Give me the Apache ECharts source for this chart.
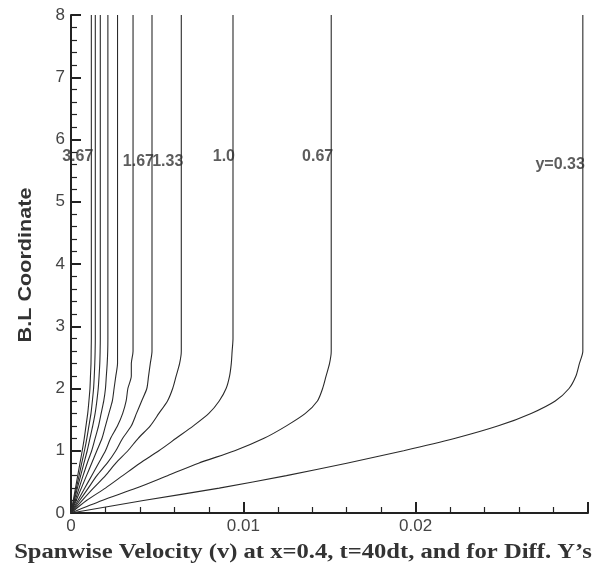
<!DOCTYPE html>
<html>
<head>
<meta charset="utf-8">
<script src="https://cdn.jsdelivr.net/npm/echarts@6/dist/echarts.min.js"></script>
<style>
  html, body { margin: 0; padding: 0; background: #fff; }
  #main { width: 600px; height: 572px; }
</style>
</head>
<body>
<div id="main"></div>
<script>
// B.L coordinate (vertical), shared by all curves
var blCoord = [0, 0.2, 0.4, 0.6, 0.8, 1.0, 1.2, 1.4, 1.6, 1.8, 2.0, 2.2, 2.4, 2.6, 2.8, 3.0, 8];

// spanwise velocity for each y station
var v033 = [0, 0.0042, 0.0086, 0.0125, 0.0160, 0.0193, 0.0223, 0.0248, 0.0267, 0.0281, 0.0289, 0.0293, 0.0295, 0.0297, 0.0297, 0.0297, 0.0297];
var v067 = [0, 0.0018, 0.0038, 0.0056, 0.0074, 0.0095, 0.0112, 0.0125, 0.0136, 0.0143, 0.0146, 0.0148, 0.0150, 0.0151, 0.0151, 0.0151, 0.0151];
var v100 = [0, 0.0009, 0.0020, 0.0030, 0.0040, 0.0051, 0.0061, 0.0071, 0.0080, 0.0086, 0.0090, 0.0092, 0.0093, 0.00935, 0.0094, 0.0094, 0.0094];
var v133 = [0, 0.00064, 0.0013, 0.0020, 0.0026, 0.0033, 0.0039, 0.0046, 0.0051, 0.0056, 0.0059, 0.0061, 0.0063, 0.0064, 0.0064, 0.0064, 0.0064];
var v167 = [0, 0.0005, 0.0010, 0.0015, 0.0021, 0.0026, 0.0030, 0.0035, 0.0038, 0.0041, 0.0044, 0.0045, 0.0046, 0.0047, 0.0047, 0.0047, 0.0047];
var v200 = [0, 0.0004, 0.0008, 0.0012, 0.0016, 0.0020, 0.0023, 0.0027, 0.0030, 0.0032, 0.0033, 0.0035, 0.0035, 0.0036, 0.0036, 0.0036, 0.0036];
var v233 = [0, 0.0003, 0.0006, 0.0009, 0.0012, 0.0015, 0.0018, 0.0020, 0.0022, 0.0024, 0.0025, 0.0026, 0.0027, 0.0027, 0.0027, 0.0027, 0.0027];
var v267 = [0, 0.00024, 0.00047, 0.0007, 0.00094, 0.0012, 0.0014, 0.0016, 0.00175, 0.0019, 0.0020, 0.00205, 0.0021, 0.00213, 0.00214, 0.00214, 0.00214];
var v300 = [0, 0.00019, 0.00037, 0.00056, 0.00075, 0.00094, 0.0011, 0.00126, 0.0014, 0.0015, 0.00158, 0.00163, 0.00167, 0.00169, 0.0017, 0.0017, 0.0017];
var v333 = [0, 0.00016, 0.00031, 0.00047, 0.00062, 0.00078, 0.00092, 0.00104, 0.00116, 0.00124, 0.00131, 0.00135, 0.00138, 0.0014, 0.00141, 0.00141, 0.00141];
var v367 = [0, 0.00013, 0.00026, 0.00039, 0.00052, 0.00065, 0.00077, 0.00087, 0.00097, 0.00104, 0.0011, 0.00113, 0.00116, 0.00117, 0.00118, 0.00118, 0.00118];

var curves = [v033, v067, v100, v133, v167, v200, v233, v267, v300, v333, v367];

// curve labels written inside the plot
var labelText = ['y=0.33', '0.67', '1.0', '1.33', '1.67', '3.67'];
var labelX = [0.0297, 0.0151, 0.0094, 0.0064, 0.0047, 0.00118];
var labelY = [5.59, 5.72, 5.72, 5.64, 5.64, 5.72];

var xTicks = [0, 0.01, 0.02];

var myChart = echarts.init(document.getElementById('main'));

var series = curves.map(function (vals) {
    return {
        type: 'line',
        symbol: 'none',
        smooth: 0.25,
        lineStyle: { color: '#2a2a2a', width: 1.1 },
        data: vals.map(function (v, i) { return [v, blCoord[i]]; }),
        silent: true
    };
});

series.push({
    type: 'scatter',
    symbolSize: 0,
    silent: true,
    data: labelX.map(function (x, i) { return [x, labelY[i]]; }),
    label: {
        show: true,
        position: 'left',
        distance: -2,
        color: '#333',
        fontFamily: 'Liberation Sans',
        fontWeight: 'bold',
        fontSize: 16,
        formatter: function (p) { return labelText[p.dataIndex]; }
    }
});

var option = {
    backgroundColor: '#fff',
    animation: false,
    grid: { left: 71, right: 12, top: 15, bottom: 59 },
    xAxis: {
        type: 'value',
        min: 0,
        max: 0.03,
        interval: 0.01,
        axisLine: { lineStyle: { color: '#222', width: 2 } },
        axisTick: { inside: true, length: 11, lineStyle: { color: '#222', width: 2 } },
        minorTick: { show: true, splitNumber: 5, length: 6, lineStyle: { color: '#222', width: 1.2 } },
        splitLine: { show: false },
        axisLabel: {
            color: '#444',
            fontFamily: 'Liberation Sans',
            fontSize: 17,
            margin: 5,
            formatter: function (v) {
                return xTicks.indexOf(v) >= 0 ? String(v) : '';
            }
        }
    },
    yAxis: {
        type: 'value',
        min: 0,
        max: 8,
        interval: 1,
        axisLine: { lineStyle: { color: '#222', width: 2 } },
        axisTick: { inside: true, length: 10, lineStyle: { color: '#222', width: 2 } },
        minorTick: { show: true, splitNumber: 5, length: 6, lineStyle: { color: '#222', width: 1.2 } },
        splitLine: { show: false },
        axisLabel: { color: '#444', fontFamily: 'Liberation Sans', fontSize: 17, margin: 6 }
    },
    graphic: [
        {
            type: 'text',
            x: 26,
            y: 265,
            rotation: Math.PI / 2,
            scaleX: 1.2,
            style: {
                text: 'B.L Coordinate',
                fill: '#333',
                font: 'bold 18px "Liberation Sans"',
                textAlign: 'center',
                textVerticalAlign: 'middle'
            }
        },
        {
            type: 'text',
            x: 303,
            y: 553,
            scaleX: 1.23,
            style: {
                text: 'Spanwise Velocity (v) at x=0.4, t=40dt, and for Diff. Y\u2019s',
                fill: '#333',
                font: 'bold 20px "Liberation Serif"',
                textAlign: 'center',
                textVerticalAlign: 'middle'
            }
        }
    ],
    series: series
};

myChart.setOption(option);
</script>
</body>
</html>
